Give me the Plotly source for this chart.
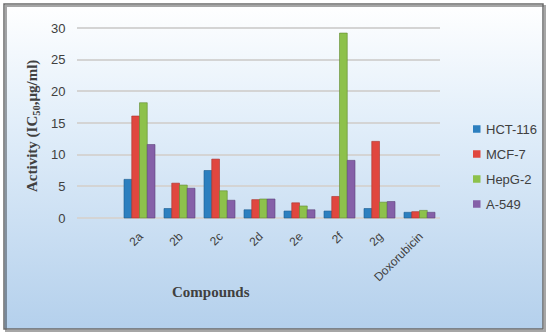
import base64
import plotly.graph_objects as go

compounds = ["2a", "2b", "2c", "2d", "2e", "2f", "2g", "Doxorubicin"]
hct116 = [6.1, 1.5, 7.5, 1.3, 1.1, 1.1, 1.5, 0.9]
mcf7 = [16.1, 5.5, 9.3, 2.9, 2.4, 3.4, 12.1, 1.0]
hepg2 = [18.2, 5.2, 4.3, 3.0, 1.9, 29.2, 2.5, 1.2]
a549 = [11.6, 4.7, 2.8, 3.0, 1.3, 9.1, 2.6, 0.9]
series_names = ["HCT-116", "MCF-7", "HepG-2", "A-549"]
series_values = [hct116, mcf7, hepg2, a549]
colors = ["#2C7FBF", "#E0473F", "#8DC14B", "#8560A8"]
edge = ["#1d5c8f", "#a8302a", "#628a31", "#5d4278"]
y_ticks = [0, 5, 10, 15, 20, 25, 30]

W, H = 550, 334
ML, MR, MT, MB = 77, 110, 25, 114
PW, PH = W - ML - MR, H - MT - MB


def px2x(px):
    return (px - ML) / PW


def px2y(py):
    return (H - MB - py) / PH


fig = go.Figure()
for name, vals, c, e in zip(series_names, series_values, colors, edge):
    fig.add_trace(go.Bar(
        x=list(range(len(compounds))), y=vals, name=name,
        marker=dict(color=c, line=dict(color=e, width=0.6)),
        showlegend=False,
    ))

svg = (
    '<svg xmlns="http://www.w3.org/2000/svg" width="100" height="100" preserveAspectRatio="none">'
    '<defs><linearGradient id="g" x1="0" y1="0" x2="0" y2="1">'
    '<stop offset="0" stop-color="#ffffff"/>'
    '<stop offset="0.35" stop-color="#e3effa"/>'
    '<stop offset="1" stop-color="#b4d0ec"/>'
    '</linearGradient></defs>'
    '<rect width="100" height="100" fill="url(#g)"/></svg>'
)
src = "data:image/svg+xml;base64," + base64.b64encode(svg.encode()).decode()

fx0, fx1, fy0, fy1 = 4, 543, 4, 329
fig.add_layout_image(dict(
    source=src, xref="paper", yref="paper",
    x=px2x(fx0), y=px2y(fy0), sizex=px2x(fx1) - px2x(fx0), sizey=px2y(fy0) - px2y(fy1),
    xanchor="left", yanchor="top", sizing="stretch", layer="below",
))

# frame shadow and border
fig.add_shape(type="rect", xref="paper", yref="paper",
              x0=px2x(fx0 + 2), x1=px2x(fx1 + 2), y0=px2y(fy1 + 2), y1=px2y(fy0 + 2),
              line=dict(color="rgba(0,0,0,0.35)", width=2), layer="below")
fig.add_shape(type="rect", xref="paper", yref="paper",
              x0=px2x(fx0), x1=px2x(fx1), y0=px2y(fy1), y1=px2y(fy0),
              line=dict(color="#6b6b6b", width=1.5), layer="above")

# legend (manual, to match the small swatches)
leg_y = [129, 154, 179, 204]
for name, c, ly in zip(series_names, colors, leg_y):
    fig.add_shape(type="rect", xref="paper", yref="paper",
                  x0=px2x(473), x1=px2x(480.5), y0=px2y(ly + 3.75), y1=px2y(ly - 3.75),
                  fillcolor=c, line=dict(width=0), layer="above")
    fig.add_annotation(
        text=name, xref="paper", yref="paper", x=px2x(484), y=px2y(ly),
        xanchor="left", yanchor="middle", showarrow=False,
        font=dict(family="Liberation Sans", size=13, color="#404040"),
    )

fig.add_annotation(
    text="<b>Activity (IC<sub>50</sub>,μg/ml)</b>", xref="paper", yref="paper",
    x=px2x(33), y=px2y(126), textangle=-90, showarrow=False,
    xanchor="center", yanchor="middle",
    font=dict(family="Liberation Serif", size=15, color="#404040"),
)
fig.add_annotation(
    text="<b>Compounds</b>", xref="paper", yref="paper",
    x=px2x(211), y=px2y(292), showarrow=False,
    xanchor="center", yanchor="middle",
    font=dict(family="Liberation Serif", size=15, color="#404040"),
)

ppu = 190 / 30
fig.update_layout(
    width=W, height=H,
    margin=dict(l=ML, r=MR, t=MT, b=MB, pad=0, autoexpand=False),
    paper_bgcolor="rgba(0,0,0,0)", plot_bgcolor="rgba(0,0,0,0)",
    barmode="group", bargap=0.225, bargroupgap=0,
    showlegend=False,
    font=dict(family="Liberation Sans", color="#404040"),
    xaxis=dict(
        tickmode="array", tickvals=list(range(len(compounds))), ticktext=compounds,
        tickangle=-45, range=[-62.5 / 40, -62.5 / 40 + PW / 40],
        showgrid=False, zeroline=False, showline=False, ticks="",
        ticklabelstandoff=6,
        tickfont=dict(family="Liberation Sans", size=12, color="#404040"),
    ),
    yaxis=dict(
        tickvals=y_ticks, range=[-(220 - 218) / ppu, -(220 - 218) / ppu + PH / ppu],
        showgrid=True, gridcolor="#d4d4d4", gridwidth=1.5,
        zeroline=True, zerolinecolor="#d4d4d4", zerolinewidth=1.5,
        ticks="outside", ticklen=8, tickcolor="rgba(0,0,0,0)",
        tickfont=dict(family="Liberation Sans", size=13, color="#404040"),
    ),
)

fig.write_html(
    "out.html",
    config={"displayModeBar": False},
    post_script="document.body.style.margin='0';document.body.style.overflow='hidden';",
)
